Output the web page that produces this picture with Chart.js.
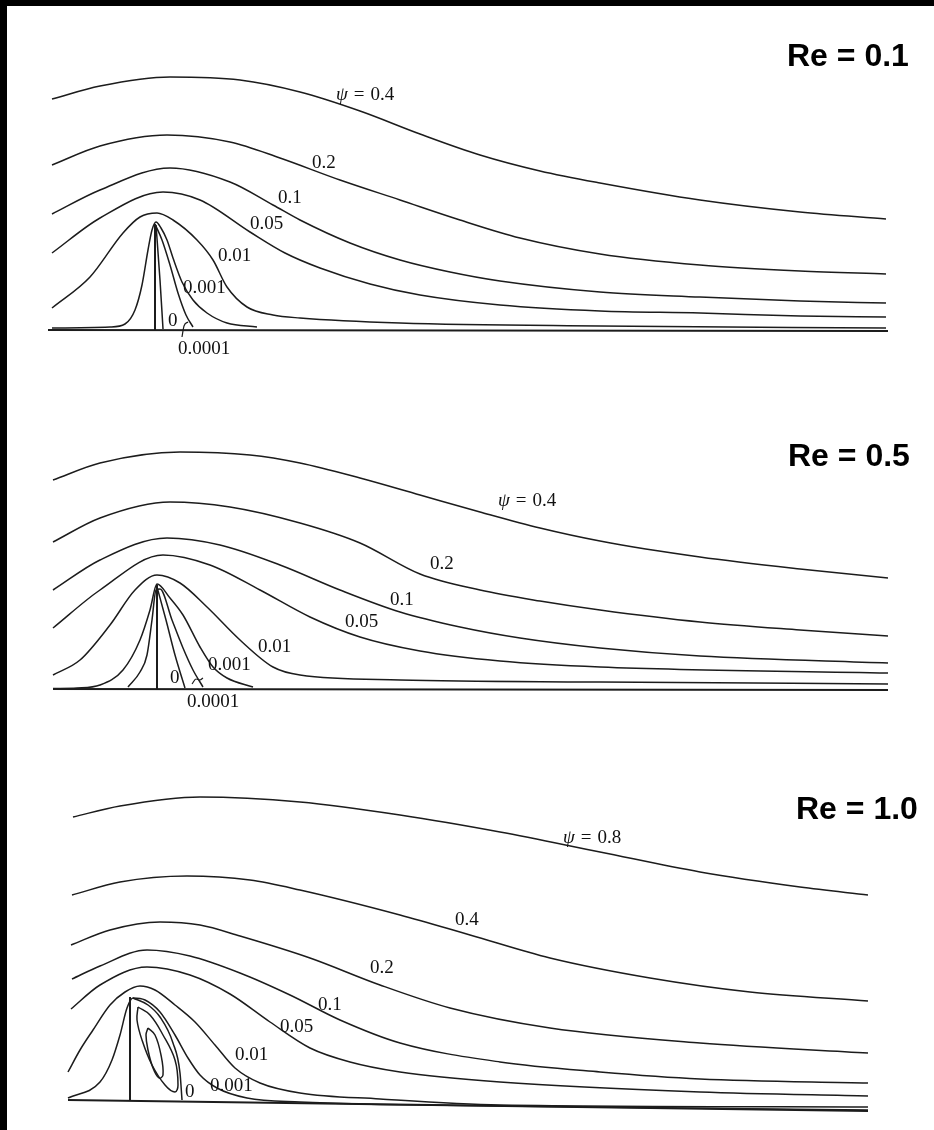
<!DOCTYPE html>
<html lang="en">
<head>
<meta charset="UTF-8">
<title>Streamlines behind a fence, Re = 0.1 / 0.5 / 1.0</title>
<script src="https://cdn.jsdelivr.net/npm/chart.js@4.4.0/dist/chart.umd.min.js"></script>
<style>
    html, body { margin: 0; padding: 0; background: #fff; }
    body { width: 934px; height: 1130px; position: relative; overflow: hidden; }
    canvas { position: absolute; left: 0; }
    .frame { position: absolute; background: #000; z-index: 5; }
    .re {
        position: absolute;
        font-family: "Liberation Sans", Arial, sans-serif;
        font-weight: bold;
        font-size: 32px;
        line-height: 1;
        color: #000;
        white-space: nowrap;
    }
</style>
</head>
<body>
<div class="frame" style="left:0;top:0;width:934px;height:6px"></div>
<div class="frame" style="left:0;top:0;width:7px;height:1130px"></div>

<canvas id="panel1" width="934" height="370" style="top:0px"></canvas>
<canvas id="panel2" width="934" height="360" style="top:370px"></canvas>
<canvas id="panel3" width="934" height="400" style="top:730px"></canvas>

<div class="re" style="left:787px;top:39px">Re = 0.1</div>
<div class="re" style="left:788px;top:439px">Re = 0.5</div>
<div class="re" style="left:796px;top:792px">Re = 1.0</div>

<script>
// Coordinates: x measured downstream from the fence, y above the wall
// (same length unit in every panel)

// ---- Re = 0.1 ----
const p1_x_04 = [-1.03, -0.55, 0.15, 0.85, 1.45, 2.05, 2.65, 3.25, 3.85, 4.45, 5.45, 6.45, 7.31];
const p1_y_04 = [2.31, 2.44, 2.53, 2.50, 2.38, 2.19, 1.96, 1.75, 1.59, 1.47, 1.30, 1.18, 1.11];
const p1_x_02 = [-1.03, -0.55, 0.12, 0.75, 1.25, 1.85, 2.45, 3.05, 3.65, 4.45, 5.45, 6.45, 7.31];
const p1_y_02 = [1.65, 1.84, 1.95, 1.88, 1.72, 1.50, 1.30, 1.10, 0.92, 0.76, 0.65, 0.59, 0.56];
const p1_x_01 = [-1.03, -0.55, 0.15, 0.75, 1.18, 1.45, 1.95, 2.45, 2.95, 3.45, 4.45, 5.45, 6.45, 7.31];
const p1_y_01 = [1.16, 1.40, 1.62, 1.48, 1.25, 1.10, 0.87, 0.70, 0.58, 0.49, 0.38, 0.33, 0.29, 0.27];
const p1_x_005 = [-1.03, -0.55, 0.08, 0.45, 0.95, 1.30, 1.65, 2.15, 2.65, 3.45, 4.45, 5.45, 6.45, 7.31];
const p1_y_005 = [0.77, 1.12, 1.38, 1.30, 0.98, 0.77, 0.62, 0.46, 0.35, 0.25, 0.19, 0.17, 0.14, 0.13];
const p1_x_001 = [-1.03, -0.65, -0.32, -0.15, 0.02, 0.18, 0.42, 0.58, 0.72, 0.92, 1.18, 1.45, 2.45, 4.45, 7.31];
const p1_y_001 = [0.22, 0.53, 0.97, 1.13, 1.17, 1.10, 0.90, 0.70, 0.43, 0.23, 0.15, 0.12, 0.07, 0.04, 0.02];
const p1_x_0001 = [-1.03, -0.45, -0.30, -0.20, -0.13, -0.07, -0.03, 0.01, 0.06, 0.12, 0.18, 0.27, 0.38, 0.52, 0.72, 1.02];
const p1_y_0001 = [0.02, 0.03, 0.06, 0.20, 0.45, 0.80, 1.00, 1.08, 1.02, 0.90, 0.72, 0.48, 0.30, 0.17, 0.07, 0.03];
const p1_x_00001 = [0, 0.07, 0.15, 0.23, 0.31, 0.38];
const p1_y_00001 = [1.06, 0.90, 0.65, 0.37, 0.15, 0.03];
const p1_x_zero = [0.01, 0.05, 0.08];
const p1_y_zero = [1.05, 0.50, 0.01];
const p1_x_fence = [0, 0];
const p1_y_fence = [0, 1.06];
const p1_x_wall = [-1.07, 7.33];
const p1_y_wall = [0, -0.01];
const p1_x_tick = [0.27, 0.29, 0.33];
const p1_y_tick = [-0.07, 0.04, 0.08];
const p1_labels = ['ψ = 0.4', '0.2', '0.1', '0.05', '0.01', '0.001', '0', '0.0001'];
const p1_label_x = [1.81, 1.57, 1.23, 0.95, 0.63, 0.28, 0.13, 0.23];
const p1_label_y = [2.35, 1.67, 1.32, 1.06, 0.74, 0.42, 0.09, -0.19];

// ---- Re = 0.5 ----
const p2_x_04 = [-1.04, -0.57, 0.23, 0.93, 1.43, 2.03, 2.63, 3.23, 3.83, 4.43, 5.43, 6.43, 7.31];
const p2_y_04 = [2.09, 2.26, 2.37, 2.34, 2.26, 2.11, 1.94, 1.77, 1.61, 1.48, 1.32, 1.20, 1.11];
const p2_x_02 = [-1.04, -0.57, 0.13, 0.73, 1.43, 2.03, 2.63, 3.23, 3.83, 4.43, 5.43, 6.43, 7.31];
const p2_y_02 = [1.47, 1.71, 1.87, 1.82, 1.66, 1.46, 1.15, 0.99, 0.88, 0.79, 0.67, 0.59, 0.53];
const p2_x_01 = [-1.04, -0.57, 0.10, 0.63, 1.23, 1.83, 2.43, 3.03, 3.63, 4.43, 5.43, 7.31];
const p2_y_01 = [0.99, 1.29, 1.51, 1.44, 1.24, 0.99, 0.77, 0.62, 0.51, 0.41, 0.33, 0.26];
const p2_x_005 = [-1.04, -0.57, 0.06, 0.53, 1.03, 1.53, 2.03, 2.63, 3.43, 4.43, 7.31];
const p2_y_005 = [0.61, 0.99, 1.34, 1.24, 0.99, 0.72, 0.52, 0.38, 0.28, 0.22, 0.16];
const p2_x_001 = [-1.04, -0.77, -0.47, -0.22, 0, 0.23, 0.50, 0.83, 1.16, 1.43, 2.43, 4.43, 7.31];
const p2_y_001 = [0.14, 0.29, 0.64, 0.99, 1.14, 1.06, 0.82, 0.49, 0.22, 0.14, 0.09, 0.07, 0.05];
const p2_x_0001 = [-1.04, -0.80, -0.57, -0.34, -0.17, -0.07, 0, 0.13, 0.26, 0.43, 0.56, 0.70, 0.96];
const p2_y_0001 = [0.005, 0.01, 0.04, 0.19, 0.49, 0.79, 1.05, 0.91, 0.74, 0.42, 0.22, 0.11, 0.02];
const p2_x_00001 = [-0.29, -0.17, -0.10, -0.05, -0.01, 0.03, 0.15, 0.26, 0.36, 0.46];
const p2_y_00001 = [0.02, 0.17, 0.34, 0.69, 0.99, 1.00, 0.69, 0.41, 0.19, 0.02];
const p2_x_zero = [0, 0.09, 0.18, 0.28];
const p2_y_zero = [1.02, 0.69, 0.34, 0.01];
const p2_x_fence = [0, 0];
const p2_y_fence = [0, 1.04];
const p2_x_wall = [-1.04, 7.31];
const p2_y_wall = [0, -0.01];
const p2_x_tick = [0.35, 0.39, 0.43, 0.46];
const p2_y_tick = [0.05, 0.10, 0.09, 0.11];
const p2_labels = ['ψ = 0.4', '0.2', '0.1', '0.05', '0.01', '0.001', '0', '0.0001'];
const p2_label_x = [3.41, 2.73, 2.33, 1.88, 1.01, 0.51, 0.13, 0.30];
const p2_label_y = [1.88, 1.25, 0.89, 0.67, 0.42, 0.24, 0.11, -0.13];

// ---- Re = 1.0 ----
const p3_x_08 = [-0.57, -0.10, 0.70, 1.70, 2.70, 3.70, 4.70, 5.70, 6.70, 7.38];
const p3_y_08 = [2.83, 2.94, 3.03, 2.98, 2.85, 2.68, 2.48, 2.28, 2.13, 2.05];
const p3_x_04 = [-0.58, -0.10, 0.57, 1.20, 1.70, 2.70, 3.40, 4.20, 5.20, 6.20, 7.38];
const p3_y_04 = [2.05, 2.18, 2.24, 2.20, 2.10, 1.85, 1.65, 1.42, 1.22, 1.08, 0.99];
const p3_x_02 = [-0.59, -0.20, 0.30, 0.70, 1.10, 1.80, 2.50, 3.20, 4.20, 5.70, 7.38];
const p3_y_02 = [1.55, 1.70, 1.78, 1.75, 1.64, 1.42, 1.15, 0.92, 0.72, 0.57, 0.47];
const p3_x_01 = [-0.58, -0.30, 0.17, 0.60, 1.10, 1.60, 2.10, 2.70, 3.70, 4.70, 5.70, 7.38];
const p3_y_01 = [1.21, 1.34, 1.50, 1.44, 1.27, 1.05, 0.80, 0.57, 0.38, 0.28, 0.21, 0.17];
const p3_x_005 = [-0.59, -0.30, 0.17, 0.60, 1.00, 1.40, 1.80, 2.20, 2.70, 3.70, 5.70, 7.38];
const p3_y_005 = [0.91, 1.15, 1.33, 1.25, 1.06, 0.78, 0.52, 0.38, 0.28, 0.18, 0.08, 0.04];
const p3_x_001 = [-0.62, -0.50, -0.37, -0.20, -0.05, 0.10, 0.25, 0.45, 0.65, 0.85, 1.05, 1.30, 1.70, 2.50, 3.70, 7.38];
const p3_y_001 = [0.28, 0.50, 0.70, 0.95, 1.08, 1.14, 1.10, 0.95, 0.78, 0.55, 0.32, 0.17, 0.07, 0.01, -0.05, -0.07];
const p3_x_0001 = [-0.62, -0.30, -0.18, -0.10, -0.03, 0.03, 0.15, 0.30, 0.45, 0.58, 0.70, 0.87, 1.17, 1.70, 3.70, 7.38];
const p3_y_0001 = [0.02, 0.18, 0.40, 0.65, 0.92, 1.02, 1.00, 0.88, 0.65, 0.42, 0.25, 0.12, 0.02, -0.02, -0.06, -0.10];
const p3_x_zero = [0.03, 0.18, 0.30, 0.43, 0.50, 0.52];
const p3_y_zero = [1.02, 0.95, 0.83, 0.57, 0.27, 0.00];
// closed eddy streamlines behind the fence
const p3_x_eddyOuter = [0.08, 0.20, 0.33, 0.45, 0.48, 0.45, 0.35, 0.22, 0.12, 0.07, 0.08];
const p3_y_eddyOuter = [0.93, 0.85, 0.65, 0.40, 0.15, 0.08, 0.15, 0.35, 0.60, 0.80, 0.93];
const p3_x_eddyInner = [0.18, 0.25, 0.31, 0.33, 0.29, 0.23, 0.18, 0.16, 0.18];
const p3_y_eddyInner = [0.72, 0.65, 0.45, 0.25, 0.22, 0.32, 0.50, 0.65, 0.72];
const p3_x_fence = [0, 0];
const p3_y_fence = [0, 1.03];
const p3_x_wall = [-0.62, 7.38];
const p3_y_wall = [0, -0.11];
const p3_labels = ['ψ = 0.8', '0.4', '0.2', '0.1', '0.05', '0.01', '0.001', '0'];
const p3_label_x = [4.33, 3.25, 2.40, 1.88, 1.50, 1.05, 0.80, 0.55];
const p3_label_y = [2.62, 1.80, 1.32, 0.95, 0.73, 0.45, 0.14, 0.08];

const LINE_COLOR = '#1c1c1c';
const LABEL_FONT = '19px "Liberation Serif", "Times New Roman", serif';
const LABEL_FONT_ITALIC = 'italic 19px "Liberation Serif", "Times New Roman", serif';
const EQ_GAP = 6;   // extra space around "=" in the psi labels

// zip two arrays into chart points
function toPoints(xs, ys) {
    return xs.map((x, i) => ({ x: x, y: ys[i] }));
}

// one dataset per streamline
// mode: 'smooth' (x increasing), 'loop' (closed curve), 'straight'
function makeLine(xs, ys, width = 1.5, mode = 'smooth') {
    const ds = {
        data: toPoints(xs, ys),
        borderColor: LINE_COLOR,
        borderWidth: width,
        pointRadius: 0,
        fill: false,
        tension: 0
    };
    if (mode === 'smooth') {
        ds.cubicInterpolationMode = 'monotone';
    } else if (mode === 'loop') {
        ds.tension = 0.4;
    }
    return ds;
}

// plugin that writes the psi values next to the lines
function makeLabelPlugin(texts, xs, ys) {
    return {
        id: 'psiLabels',
        afterDatasetsDraw(chart) {
            const ctx = chart.ctx;
            const sx = chart.scales.x;
            const sy = chart.scales.y;
            ctx.save();
            ctx.fillStyle = '#111';
            ctx.textBaseline = 'middle';
            texts.forEach((text, i) => {
                let px = sx.getPixelForValue(xs[i]);
                const py = sy.getPixelForValue(ys[i]);
                if (text.startsWith('ψ')) {
                    // "ψ = value" set like a formula: italic psi, wide spaces
                    const value = text.split('=')[1].trim();
                    ctx.font = LABEL_FONT_ITALIC;
                    ctx.fillText('ψ', px, py);
                    px += ctx.measureText('ψ').width + EQ_GAP;
                    ctx.font = LABEL_FONT;
                    ctx.fillText('=', px, py);
                    px += ctx.measureText('=').width + EQ_GAP;
                    ctx.fillText(value, px, py);
                } else {
                    ctx.font = LABEL_FONT;
                    ctx.fillText(text, px, py);
                }
            });
            ctx.restore();
        }
    };
}

// build one panel
function createPanel(canvasId, xRange, yRange, datasets, labelPlugin) {
    const ctx = document.getElementById(canvasId).getContext('2d');
    return new Chart(ctx, {
        type: 'line',
        data: { datasets: datasets },
        options: {
            responsive: false,
            animation: false,
            events: [],
            layout: { padding: 0 },
            plugins: {
                legend: { display: false },
                tooltip: { enabled: false },
                title: { display: false }
            },
            scales: {
                x: { type: 'linear', min: xRange[0], max: xRange[1], display: false },
                y: { type: 'linear', min: yRange[0], max: yRange[1], display: false }
            }
        },
        plugins: [labelPlugin]
    });
}

function init() {
    createPanel('panel1', [-1.55, 7.79], [-0.40, 3.30], [
        makeLine(p1_x_04, p1_y_04),
        makeLine(p1_x_02, p1_y_02),
        makeLine(p1_x_01, p1_y_01),
        makeLine(p1_x_005, p1_y_005),
        makeLine(p1_x_001, p1_y_001),
        makeLine(p1_x_0001, p1_y_0001),
        makeLine(p1_x_00001, p1_y_00001),
        makeLine(p1_x_zero, p1_y_zero),
        makeLine(p1_x_tick, p1_y_tick, 1.2),
        makeLine(p1_x_fence, p1_y_fence, 2, 'straight'),
        makeLine(p1_x_wall, p1_y_wall, 2, 'straight')
    ], makeLabelPlugin(p1_labels, p1_label_x, p1_label_y));

    createPanel('panel2', [-1.57, 7.77], [-0.41, 3.19], [
        makeLine(p2_x_04, p2_y_04),
        makeLine(p2_x_02, p2_y_02),
        makeLine(p2_x_01, p2_y_01),
        makeLine(p2_x_005, p2_y_005),
        makeLine(p2_x_001, p2_y_001),
        makeLine(p2_x_0001, p2_y_0001),
        makeLine(p2_x_00001, p2_y_00001),
        makeLine(p2_x_zero, p2_y_zero),
        makeLine(p2_x_tick, p2_y_tick, 1.2),
        makeLine(p2_x_fence, p2_y_fence, 2, 'straight'),
        makeLine(p2_x_wall, p2_y_wall, 2, 'straight')
    ], makeLabelPlugin(p2_labels, p2_label_x, p2_label_y));

    createPanel('panel3', [-1.30, 8.04], [-0.30, 3.70], [
        makeLine(p3_x_08, p3_y_08),
        makeLine(p3_x_04, p3_y_04),
        makeLine(p3_x_02, p3_y_02),
        makeLine(p3_x_01, p3_y_01),
        makeLine(p3_x_005, p3_y_005),
        makeLine(p3_x_001, p3_y_001),
        makeLine(p3_x_0001, p3_y_0001),
        makeLine(p3_x_zero, p3_y_zero),
        makeLine(p3_x_eddyOuter, p3_y_eddyOuter, 1.5, 'loop'),
        makeLine(p3_x_eddyInner, p3_y_eddyInner, 1.5, 'loop'),
        makeLine(p3_x_fence, p3_y_fence, 2, 'straight'),
        makeLine(p3_x_wall, p3_y_wall, 2, 'straight')
    ], makeLabelPlugin(p3_labels, p3_label_x, p3_label_y));
}

window.addEventListener('load', init);
</script>
</body>
</html>
